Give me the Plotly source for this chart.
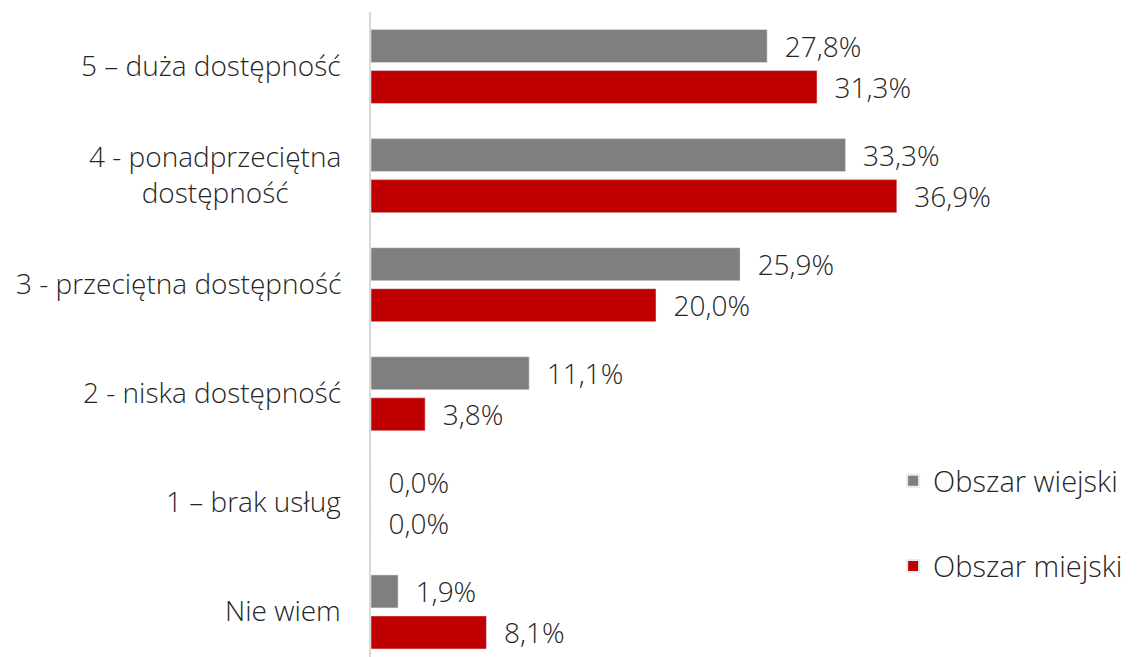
import plotly.graph_objects as go

# Categories (top to bottom) and series values in percent
categories = [
    "5 – duża dostępność",
    "4 - ponadprzeciętna<br>dostępność",
    "3 - przeciętna dostępność",
    "2 - niska dostępność",
    "1 – brak usług",
    "Nie wiem",
]
wiejski = [27.8, 33.3, 25.9, 11.1, 0.0, 1.9]
miejski = [31.3, 36.9, 20.0, 3.8, 0.0, 8.1]


def pl_pct(vals):
    # Polish decimal comma, small lead-in gap
    return ["\u00a0\u00a0" + f"{v:.1f}".replace(".", ",") + "%" for v in vals]


fig = go.Figure()
fig.add_trace(go.Bar(
    y=categories, x=wiejski, orientation="h", name="Obszar wiejski",
    marker_color="#7f7f7f", text=pl_pct(wiejski), textposition="outside",
    cliponaxis=False, legend="legend", showlegend=True,
))
fig.add_trace(go.Bar(
    y=categories, x=miejski, orientation="h", name="Obszar miejski",
    marker_color="#c00000", text=pl_pct(miejski), textposition="outside",
    cliponaxis=False, legend="legend2", showlegend=True,
))

fig.update_traces(textfont=dict(size=28, color="#262626", weight=300),
                  constraintext="none")

# category labels as centered annotations
for c in categories:
    fig.add_annotation(
        x=0, xref="paper", y=c, yref="y", text=c, showarrow=False,
        xanchor="right", xshift=-28, yshift=2, align="center",
        font=dict(size=28, color="#262626", weight=300),
    )

legend_style = dict(
    xanchor="left", yanchor="middle", bgcolor="rgba(0,0,0,0)",
    font=dict(size=29, color="#262626", weight=300), itemsizing="constant",
)

# page body adds an 8px margin, so the figure is shifted by 8px
fig.update_layout(
    width=1140, height=649,
    margin=dict(l=363, r=207, t=4, b=0, autoexpand=False),
    font=dict(family="Open Sans, sans-serif"),
    plot_bgcolor="white", paper_bgcolor="white",
    showlegend=True,
    barmode="group", bargap=0.248, bargroupgap=0.195,
    xaxis=dict(range=[0, 40], visible=False),
    yaxis=dict(
        range=[5.413, -0.5], showticklabels=False, ticks="",
        showline=True, linecolor="#d9d9d9", linewidth=2, showgrid=False,
        zeroline=False,
    ),
    legend=dict(x=0.916, y=0.273, **legend_style),
    legend2=dict(x=0.916, y=0.141, **legend_style),
)

fig.write_html("out.html")
